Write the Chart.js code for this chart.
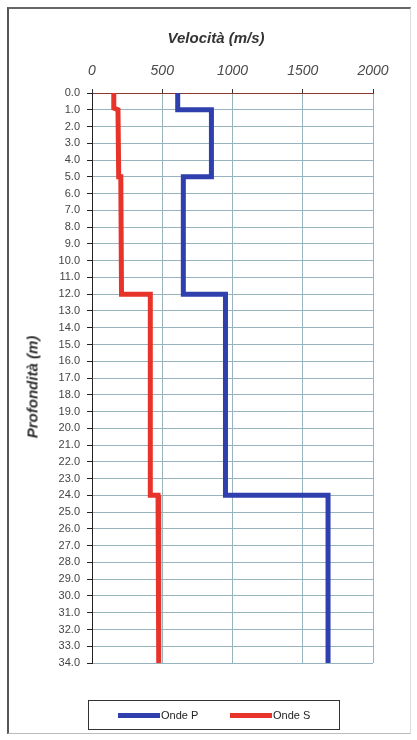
<!DOCTYPE html>
<html>
<head>
<meta charset="utf-8">
<script src="https://cdn.jsdelivr.net/npm/chart.js@4.4.1/dist/chart.umd.min.js"></script>
<style>
  html, body { margin: 0; padding: 0; background: #fff; }
  #wrap { position: relative; width: 417px; height: 740px; overflow: hidden; }
  #frame {
    position: absolute; left: 7px; top: 7px; width: 404px; height: 727px;
    border-left: 2px solid #555; border-top: 2px solid #666;
    border-bottom: 1px solid #bbb; border-right: 1px solid #ddd;
    box-sizing: border-box;
  }
  canvas { position: absolute; left: 0; top: 0; }
  .title {
    position: absolute; font: bold italic 15px "Liberation Sans", Arial, sans-serif;
    color: #333; white-space: nowrap;
  }
  #xTitle { left: 216px; top: 37px; transform: translate(-50%, -50%); }
  #yTitle { left: 32px; top: 387px; transform: translate(-50%, -50%) rotate(-90deg); }
  #legend {
    position: absolute; left: 88px; top: 700px; width: 252px; height: 30px;
    border: 1.5px solid #333; box-sizing: border-box;
    font: 11px "Liberation Sans", Arial, sans-serif; color: #222;
  }
  .item { position: absolute; top: 0; height: 100%; display: flex; align-items: center; }
  .swatch { display: inline-block; width: 42px; height: 5px; margin-right: 1px; }
</style>
</head>
<body>
<div id="wrap">
  <div id="frame"></div>
  <canvas id="chart" width="417" height="740"></canvas>
  <div class="title" id="xTitle">Velocità (m/s)</div>
  <div class="title" id="yTitle">Profondità (m)</div>
  <div id="legend"></div>
</div>
<script>
// profondità (m) dei vertici dei profili a gradini
const depthP = [0, 1, 1, 5, 5, 12, 12, 24, 24, 34];
const velP   = [610, 610, 850, 850, 650, 650, 950, 950, 1680, 1680];

const depthS = [0, 0.9, 1, 5, 5, 12, 12, 24, 24, 34];
const velS   = [155, 155, 185, 190, 205, 210, 415, 415, 470, 475];

const seriesNames = ['Onde P', 'Onde S'];
const seriesColors = ['#2f3fae', '#e8332a'];

const xTicks = [0, 500, 1000, 1500, 2000];
const depthMax = 34;

const toPoints = (d, v) => d.map((y, i) => ({ x: v[i], y }));

const FONT = '"Liberation Sans", Arial, sans-serif';
const GRID = '#97b3bd';

new Chart(document.getElementById('chart'), {
  type: 'scatter',
  data: {
    datasets: [
      { label: seriesNames[0], data: toPoints(depthP, velP), borderColor: seriesColors[0] },
      { label: seriesNames[1], data: toPoints(depthS, velS), borderColor: seriesColors[1] }
    ].map(ds => Object.assign(ds, {
      showLine: true, borderWidth: 5, pointRadius: 0, tension: 0,
      borderJoinStyle: 'miter', borderCapStyle: 'butt'
    }))
  },
  options: {
    responsive: false,
    animation: false,
    layout: { padding: { left: 0, top: 0, right: 44, bottom: 77 } },
    plugins: { legend: { display: false }, tooltip: { enabled: false } },
    scales: {
      x: {
        type: 'linear', position: 'top', min: 0, max: 2000,
        afterFit: s => { s.height = 93; },
        afterBuildTicks: s => { s.ticks = xTicks.map(v => ({ value: v })); },
        grid: { color: GRID, tickColor: '#333', tickLength: 4, lineWidth: 1 },
        border: { color: '#8a3a2e', width: 1 },
        ticks: {
          padding: 9, color: '#4a4a4a', font: { family: FONT, size: 14, style: 'italic' },
          callback: v => String(v)
        }
      },
      y: {
        type: 'linear', reverse: true, min: 0, max: depthMax,
        afterFit: s => { s.width = 92; },
        grid: { color: GRID, tickColor: '#222', tickLength: 5, lineWidth: 1 },
        border: { color: '#222', width: 1 },
        ticks: {
          stepSize: 1, autoSkip: false, padding: 7, color: '#444',
          font: { family: FONT, size: 11 },
          callback: v => v.toFixed(1)
        }
      }
    }
  }
});

// legenda
const legend = document.getElementById('legend');
const legendX = [29, 141];
seriesNames.forEach((name, i) => {
  const item = document.createElement('div');
  item.className = 'item';
  item.style.left = legendX[i] + 'px';
  const sw = document.createElement('span');
  sw.className = 'swatch';
  sw.style.background = seriesColors[i];
  item.append(sw, document.createTextNode(name));
  legend.appendChild(item);
});
</script>
</body>
</html>
